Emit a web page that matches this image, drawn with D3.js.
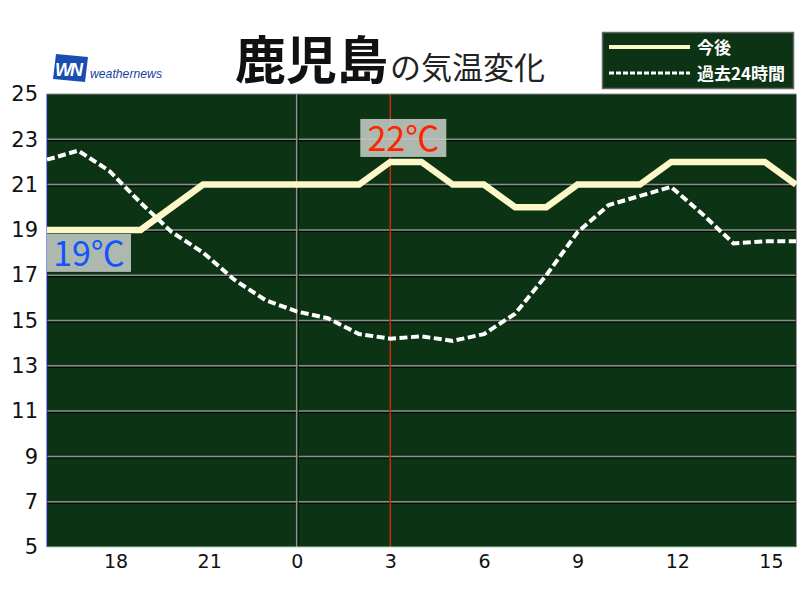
<!DOCTYPE html>
<html>
<head>
<meta charset="utf-8">
<script src="https://d3js.org/d3.v7.min.js"></script>
<style>
  body { margin: 0; background: #fff; }
</style>
</head>
<body>
<svg id="chart" width="800" height="600" font-family="Noto Sans CJK JP, Noto Sans, sans-serif"></svg>
<script>
// hours from 16:00 to 16:00 next day (0 = midnight)
var hours = d3.range(-8, 17)
var tickHours = [-6, -3, 0, 3, 6, 9, 12, 15]
var tickLabels = ["18", "21", "0", "3", "6", "9", "12", "15"]
var yTicks = [5, 7, 9, 11, 13, 15, 17, 19, 21, 23, 25]

// 今後 (forecast)
var forecast = [19, 19, 19, 19, 20, 21, 21, 21, 21, 21, 21, 22, 22, 21, 21, 20, 20, 21, 21, 21, 22, 22, 22, 22, 21]
// 過去24時間
var past = [22.1, 22.5, 21.6, 20.2, 18.9, 18.0, 16.8, 15.9, 15.4, 15.1, 14.4, 14.2, 14.3, 14.1, 14.4, 15.3, 17.0, 18.9, 20.1, 20.5, 20.9, 19.7, 18.4, 18.5, 18.5]

var svg = d3.select("#chart")
var margin = { top: 94, left: 47, right: 4, bottom: 53 }
var width = 800 - margin.left - margin.right
var height = 600 - margin.top - margin.bottom

var x = d3.scaleLinear().domain([-8, 16]).range([margin.left, margin.left + width])
var y = d3.scaleLinear().domain([5, 25]).range([margin.top + height, margin.top])

// title
var title = svg.append("text").attr("x", 235).attr("y", 79)
title.append("tspan").attr("font-size", 51).attr("font-weight", "bold").attr("fill", "#111").text("鹿児島")
title.append("tspan").attr("font-size", 31).attr("fill", "#222").attr("dx", 2).text("の気温変化")

// logo
svg.append("path").attr("d", "M56,54 L88,57 L85,82 L53,79 Z").attr("fill", "#1a4db0")
svg.append("text").attr("x", 55).attr("y", 76).attr("font-size", 18).attr("font-weight", "bold")
  .attr("font-style", "italic").attr("fill", "#fff").attr("font-family", "Liberation Sans")
  .attr("letter-spacing", -2).text("WN")
svg.append("text").attr("x", 90).attr("y", 78).attr("font-size", 13).attr("font-style", "italic")
  .attr("fill", "#1a3fa0").attr("font-family", "Liberation Sans")
  .attr("textLength", 72).attr("lengthAdjust", "spacingAndGlyphs").text("weathernews")

// plot background
svg.append("rect").attr("x", margin.left).attr("y", margin.top).attr("width", width).attr("height", height)
  .attr("fill", "#0b3314")

// horizontal grid
var grid = svg.append("g")
grid.selectAll(".shadow").data(yTicks.slice(1, -1)).enter().append("line")
  .attr("x1", margin.left).attr("x2", margin.left + width)
  .attr("y1", function(d) { return y(d) + 1.5 }).attr("y2", function(d) { return y(d) + 1.5 })
  .attr("stroke", "#000").attr("stroke-width", 1)
grid.selectAll(".gl").data(yTicks.slice(1, -1)).enter().append("line")
  .attr("x1", margin.left).attr("x2", margin.left + width)
  .attr("y1", function(d) { return y(d) }).attr("y2", function(d) { return y(d) })
  .attr("stroke", "#8a8f8a").attr("stroke-width", 1.5)

// midnight line and now line
svg.append("line").attr("x1", x(0) + 1.5).attr("x2", x(0) + 1.5).attr("y1", margin.top).attr("y2", margin.top + height)
  .attr("stroke", "#000").attr("stroke-width", 1)
svg.append("line").attr("x1", x(0)).attr("x2", x(0)).attr("y1", margin.top).attr("y2", margin.top + height)
  .attr("stroke", "#8a8f8a").attr("stroke-width", 1.5)
svg.append("line").attr("x1", x(3)).attr("x2", x(3)).attr("y1", margin.top).attr("y2", margin.top + height)
  .attr("stroke", "#c62a10").attr("stroke-width", 1.5)

// borders
svg.append("line").attr("x1", margin.left).attr("x2", margin.left).attr("y1", margin.top).attr("y2", margin.top + height)
  .attr("stroke", "#1a22c8").attr("stroke-width", 1)
svg.append("line").attr("x1", margin.left).attr("x2", margin.left + width).attr("y1", margin.top + height).attr("y2", margin.top + height)
  .attr("stroke", "#a8d8b8").attr("stroke-width", 1)
svg.append("line").attr("x1", margin.left + width).attr("x2", margin.left + width).attr("y1", margin.top).attr("y2", margin.top + height)
  .attr("stroke", "#333").attr("stroke-width", 1)
svg.append("line").attr("x1", margin.left).attr("x2", margin.left + width).attr("y1", margin.top).attr("y2", margin.top)
  .attr("stroke", "#888").attr("stroke-width", 1)

// axes
var yAxis = svg.append("g").attr("transform", "translate(" + margin.left + ",0)")
  .call(d3.axisLeft(y).tickValues(yTicks).tickSize(0).tickPadding(9))
yAxis.select(".domain").remove()
yAxis.selectAll("text").attr("font-size", 21).attr("fill", "#111").attr("font-family", "DejaVu Sans")

var xAxis = svg.append("g").attr("transform", "translate(0," + (margin.top + height) + ")")
  .call(d3.axisBottom(x).tickValues(tickHours).tickSize(0).tickPadding(8)
    .tickFormat(function(d, i) { return tickLabels[i] }))
xAxis.select(".domain").remove()
xAxis.selectAll("text").attr("font-size", 19).attr("fill", "#111").attr("font-family", "DejaVu Sans")
  .attr("text-anchor", "start").attr("dx", -6)

// lines
var line = d3.line().x(function(d, i) { return x(hours[i]) }).y(function(d) { return y(d) })

svg.append("path").datum(forecast).attr("d", line).attr("fill", "none")
  .attr("stroke", "#fdf8c8").attr("stroke-width", 6.5)

svg.append("path").datum(past).attr("d", line).attr("fill", "none")
  .attr("stroke", "#fff").attr("stroke-width", 4).attr("stroke-dasharray", "8,3.5")

// value labels
function label(h, v, color, dy, anchor) {
  var g = svg.append("g")
  var bx = anchor === "start" ? x(h) : x(h) - 30
  var by = y(v) + dy
  var w = anchor === "start" ? 84 : 86
  g.append("rect").attr("x", bx).attr("y", by).attr("width", w).attr("height", 38)
    .attr("fill", "#c4ccc4").attr("opacity", 0.88)
  g.append("text").attr("x", bx + w / 2).attr("y", by + 32)
    .attr("text-anchor", "middle").attr("font-size", 34).attr("fill", color).attr("font-family", "Noto Sans CJK JP")
    .text(v + "℃")
}
label(3, forecast[11], "#ff2400", -43, "middle")
label(-8, forecast[0], "#1454ff", 4, "start")

// legend
var lg = svg.append("g")
lg.append("rect").attr("x", 602.5).attr("y", 32.5).attr("width", 191).attr("height", 56)
  .attr("fill", "#0b3314").attr("stroke", "#666").attr("stroke-width", 1.5)
lg.append("line").attr("x1", 609).attr("x2", 690).attr("y1", 47).attr("y2", 47)
  .attr("stroke", "#fdf8c8").attr("stroke-width", 4)
lg.append("line").attr("x1", 609).attr("x2", 690).attr("y1", 73).attr("y2", 73)
  .attr("stroke", "#fff").attr("stroke-width", 3).attr("stroke-dasharray", "5,2")
lg.append("text").attr("x", 697).attr("y", 54).attr("font-size", 17).attr("font-weight", "bold")
  .attr("fill", "#fff").text("今後")
lg.append("text").attr("x", 697).attr("y", 80).attr("font-size", 17).attr("font-weight", "bold")
  .attr("fill", "#fff").text("過去24時間")
</script>
</body>
</html>
